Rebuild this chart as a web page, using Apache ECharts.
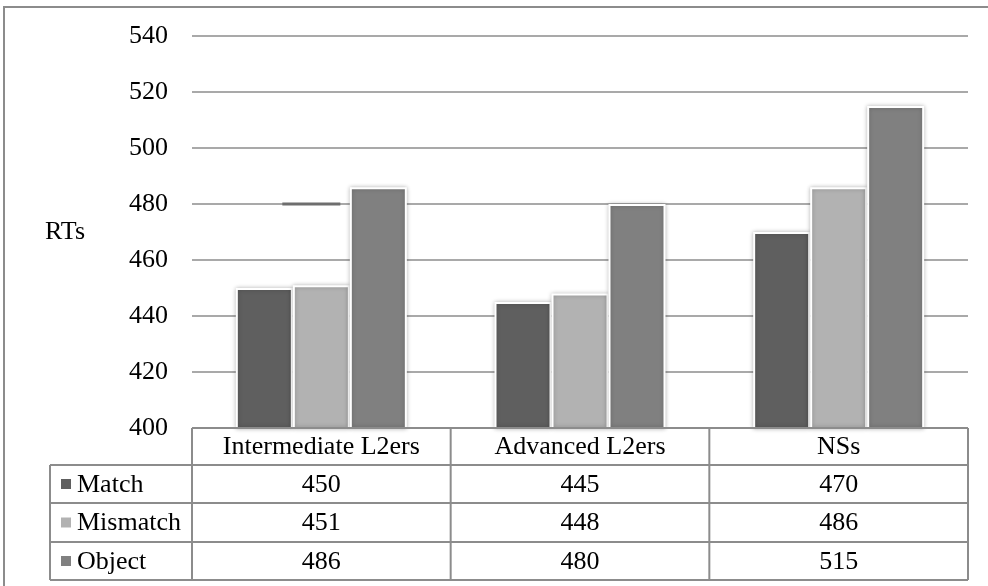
<!DOCTYPE html>
<html>
<head>
<meta charset="utf-8">
<script src="https://cdn.jsdelivr.net/npm/echarts@6/dist/echarts.min.js"></script>
<style>
  html, body { margin: 0; padding: 0; background: #fff; }
  #chart { width: 988px; height: 586px; }
</style>
</head>
<body>
<div id="chart"></div>
<script>
// Reaction times by group and condition
const categories = ['Intermediate L2ers', 'Advanced L2ers', 'NSs'];
const seriesNames = ['Match', 'Mismatch', 'Object'];
const matchRT = [450, 445, 470];
const mismatchRT = [451, 448, 486];
const objectRT = [486, 480, 515];
const yTicks = [400, 420, 440, 460, 480, 500, 520, 540];

const seriesValues = [matchRT, mismatchRT, objectRT];
const colors = ['#5f5f5f', '#b2b2b2', '#808080'];

const FONT = 'Liberation Serif';
const FS = 26;
const FONT_CSS = FS + 'px "Liberation Serif", serif';
const LINE = '#8c8c8c';

// Plot and table geometry
const gridLeft = 192, gridRight = 968, gridTop = 36, gridBottom = 428;
const labelColLeft = 50;
const rowH = [37, 38, 39, 38];

const chart = echarts.init(document.getElementById('chart'), null, { renderer: 'canvas' });

const option = {
  animation: false,
  backgroundColor: '#ffffff',
  textStyle: { fontFamily: FONT },
  grid: {
    left: gridLeft,
    right: 988 - gridRight,
    top: gridTop,
    bottom: 586 - gridBottom,
    containLabel: false
  },
  xAxis: {
    type: 'category',
    data: categories,
    axisLine: { show: false },
    axisTick: { show: false },
    axisLabel: { show: false },
    splitLine: { show: false }
  },
  yAxis: {
    type: 'value',
    min: yTicks[0],
    max: yTicks[yTicks.length - 1],
    interval: yTicks[1] - yTicks[0],
    name: 'RTs',
    nameLocation: 'middle',
    nameRotate: 0,
    nameGap: 107,
    nameTextStyle: { fontFamily: FONT, fontSize: FS, color: '#000' },
    axisLine: { show: false },
    axisTick: { show: false },
    axisLabel: { margin: 24, fontFamily: FONT, fontSize: FS, color: '#000' },
    splitLine: { lineStyle: { color: LINE, width: 1.5 } }
  },
  series: seriesNames.map((name, i) => ({
    name: name,
    type: 'bar',
    data: seriesValues[i],
    barWidth: 57,
    barGap: '0%',
    itemStyle: {
      color: colors[i],
      borderColor: '#ffffff',
      borderWidth: 2,
      shadowBlur: 4,
      shadowColor: 'rgba(0,0,0,0.25)'
    }
  }))
};
chart.setOption(option);

function label(text, x, y, align) {
  return { type: 'text', x: x, y: y, z: 11,
    style: { text: text, font: FONT_CSS, fill: '#000', align: align, verticalAlign: 'middle' } };
}

// Data table under the plot, plus the frame around the figure
function buildGraphics() {
  const g = [];
  const tableRight = gridRight;
  const colW = (gridRight - gridLeft) / categories.length;
  const rows = [gridBottom];
  rowH.forEach(h => rows.push(rows[rows.length - 1] + h));
  const lineStyle = { stroke: LINE, lineWidth: 2 };

  // outer frame
  g.push({ type: 'rect', shape: { x: 4, y: 7, width: 1000, height: 600 },
    style: { fill: 'none', stroke: '#8c8c8c', lineWidth: 2 }, z: 0 });

  // header row: top border and vertical dividers
  g.push({ type: 'line', shape: { x1: gridLeft, y1: rows[0], x2: tableRight, y2: rows[0] }, style: lineStyle, z: 10 });
  for (let c = 0; c <= categories.length; c++) {
    const x = gridLeft + c * colW;
    g.push({ type: 'line', shape: { x1: x, y1: rows[0], x2: x, y2: rows[4] }, style: lineStyle, z: 10 });
  }
  // row label column left edge
  g.push({ type: 'line', shape: { x1: labelColLeft, y1: rows[1], x2: labelColLeft, y2: rows[4] }, style: lineStyle, z: 10 });
  // horizontal row lines
  for (let r = 1; r <= 4; r++) {
    g.push({ type: 'line', shape: { x1: labelColLeft, y1: rows[r], x2: tableRight, y2: rows[r] }, style: lineStyle, z: 10 });
  }
  // header text
  categories.forEach((cat, c) => {
    g.push(label(cat, gridLeft + (c + 0.5) * colW, (rows[0] + rows[1]) / 2 + 1, 'center'));
  });
  // value rows with legend keys
  seriesNames.forEach((name, s) => {
    const cy = (rows[s + 1] + rows[s + 2]) / 2 + 1;
    g.push({ type: 'rect', shape: { x: 61, y: cy - 6, width: 10, height: 10 },
      style: { fill: colors[s] }, z: 11 });
    g.push(label(name, 77, cy, 'left'));
    seriesValues[s].forEach((v, c) => {
      g.push(label(String(v), gridLeft + (c + 0.5) * colW, cy, 'center'));
    });
  });

  // short dark stroke lying on the 480 gridline in the first group
  const p = chart.convertToPixel({ gridIndex: 0 }, [0, 480]);
  g.push({ type: 'line', shape: { x1: p[0] - 39, y1: p[1], x2: p[0] + 19, y2: p[1] },
    style: { stroke: '#6e6e6e', lineWidth: 3 }, z: 5 });

  chart.setOption({ graphic: g });
}
buildGraphics();
</script>
</body>
</html>
